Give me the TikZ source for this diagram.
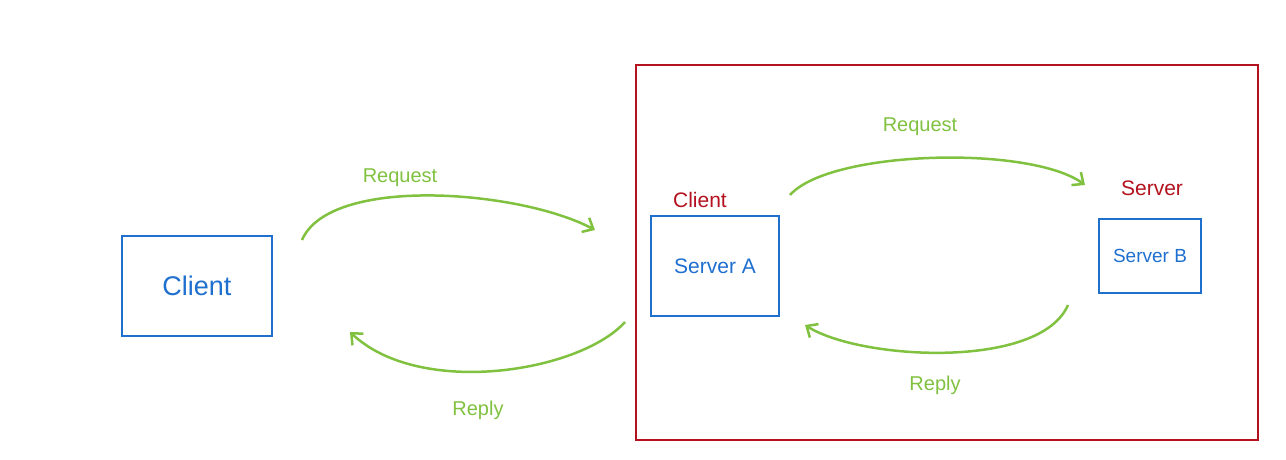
\documentclass[tikz,border=0pt]{standalone}
\usepackage{fontspec}
\setmainfont{Liberation Sans}
\usetikzlibrary{arrows.meta}
\definecolor{pblue}{HTML}{1F6FCF}
\definecolor{pred}{HTML}{B3121E}
\definecolor{pgreen}{HTML}{80C140}
\tikzset{
  bluebox/.style={draw=pblue, line width=2.4pt, inner sep=0pt},
  redbox/.style={draw=pred, line width=2.6pt},
  flow/.style={draw=pgreen, line width=2.5pt, -{Straight Barb[length=9pt,width=16pt,line width=2.5pt]}},
  flowlabel/.style={text=pgreen, font=\fontsize{20}{21}\selectfont},
  redlabel/.style={text=pred, font=\fontsize{21}{22}\selectfont},
  boxtext/.style={text=pblue}
}
\begin{document}
\begin{tikzpicture}[x=1pt,y=-1pt]
\useasboundingbox (0,0) rectangle (1286,460);
% outer red frame
\draw[redbox] (636,65) rectangle (1258,440);
% left client box
\node[bluebox, minimum width=150pt, minimum height=100pt, boxtext, font=\fontsize{27}{28}\selectfont] (client) at (197,286) {Client};
% server A
\node[bluebox, minimum width=128pt, minimum height=100pt, boxtext, font=\fontsize{21}{22}\selectfont] (srvA) at (715,266) {Server A};
% server B
\node[bluebox, minimum width=102pt, minimum height=74pt, boxtext, font=\fontsize{19}{20}\selectfont] (srvB) at (1150,256) {Server B};
% red labels
\node[redlabel] (lclient) at (700,200) {Client};
\node[redlabel] (lserver) at (1152,188) {Server};
% connectors
\coordinate (r1s) at (302,240);
\coordinate (r1e) at (595,230);
\draw[flow] (r1s) .. controls (330,175) and (520,190) .. (r1e);
\node[flowlabel] (lreq1) at (400,178) {Request};
\coordinate (p1s) at (625,322);
\coordinate (p1e) at (350,332);
\draw[flow] (p1s) .. controls (580,372) and (420,398) .. (p1e);
\node[flowlabel] (lrep1) at (478,410) {Reply};
\coordinate (r2s) at (790,195);
\coordinate (r2e) at (1085,185);
\draw[flow] (r2s) .. controls (830,150) and (1030,145) .. (r2e);
\node[flowlabel] (lreq2) at (920,127) {Request};
\coordinate (p2s) at (1068,305);
\coordinate (p2e) at (805,325);
\draw[flow] (p2s) .. controls (1040,370) and (860,360) .. (p2e);
\node[flowlabel] (lrep2) at (935,385) {Reply};
\end{tikzpicture}
\end{document}
